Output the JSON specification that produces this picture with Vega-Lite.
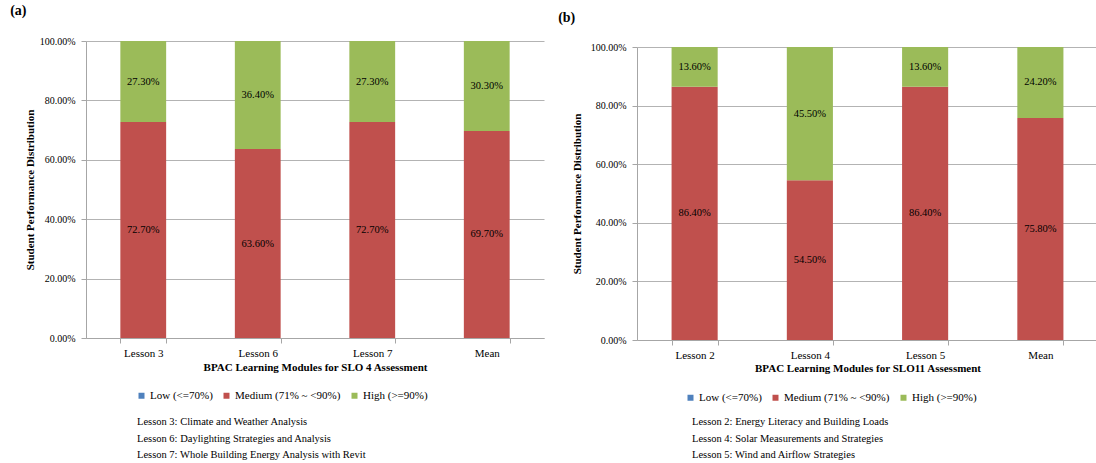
{
  "$schema": "https://vega.github.io/schema/vega-lite/v6.json",
  "padding": {"left": 10, "top": 4, "right": 3, "bottom": 0},
  "background": "white",
  "config": {
    "font": "Liberation Serif",
    "view": {"stroke": null},
    "text": {"font": "Liberation Serif"},
    "axis": {"labelFont": "Liberation Serif", "titleFont": "Liberation Serif", "labelColor": "black", "titleColor": "black", "domainColor": "#a6a6a6", "tickColor": "#a6a6a6", "gridColor": "#b3b3b3"},
    "legend": {"labelFont": "Liberation Serif", "labelColor": "black"},
    "title": {"font": "Liberation Serif"}
  },
  "datasets": {
    "a": [
      {"lesson": "Lesson 3", "level": "Medium (71% ~ <90%)", "share": 0.727},
      {"lesson": "Lesson 3", "level": "High (>=90%)", "share": 0.273},
      {"lesson": "Lesson 6", "level": "Medium (71% ~ <90%)", "share": 0.636},
      {"lesson": "Lesson 6", "level": "High (>=90%)", "share": 0.364},
      {"lesson": "Lesson 7", "level": "Medium (71% ~ <90%)", "share": 0.727},
      {"lesson": "Lesson 7", "level": "High (>=90%)", "share": 0.273},
      {"lesson": "Mean", "level": "Medium (71% ~ <90%)", "share": 0.697},
      {"lesson": "Mean", "level": "High (>=90%)", "share": 0.303}
    ],
    "b": [
      {"lesson": "Lesson 2", "level": "Medium (71% ~ <90%)", "share": 0.864},
      {"lesson": "Lesson 2", "level": "High (>=90%)", "share": 0.136},
      {"lesson": "Lesson 4", "level": "Medium (71% ~ <90%)", "share": 0.545},
      {"lesson": "Lesson 4", "level": "High (>=90%)", "share": 0.455},
      {"lesson": "Lesson 5", "level": "Medium (71% ~ <90%)", "share": 0.864},
      {"lesson": "Lesson 5", "level": "High (>=90%)", "share": 0.136},
      {"lesson": "Mean", "level": "Medium (71% ~ <90%)", "share": 0.758},
      {"lesson": "Mean", "level": "High (>=90%)", "share": 0.242}
    ],
    "none": []
  },
  "spacing": 14,
  "resolve": {"legend": {"color": "independent"}},
  "hconcat": [
    {
      "title": {"text": "(a)", "anchor": "start", "fontSize": 14, "fontWeight": "bold", "font": "Liberation Serif", "dx": -14, "offset": 18, "color": "black"},
      "resolve": {"legend": {"color": "independent"}},
      "vconcat": [
        {
          "width": 458,
          "height": 297,
          "data": {"name": "a"},
          "title": {"text": ["Lesson 3: Climate and Weather Analysis", "Lesson 6: Daylighting Strategies and Analysis", "Lesson 7: Whole Building Energy Analysis with Revit"], "orient": "bottom", "anchor": "start", "frame": "group", "dx": 51, "fontSize": 10.5, "fontWeight": "normal", "font": "Liberation Serif", "lineHeight": 16.5, "offset": 16, "color": "black"},
          "encoding": {
            "x": {"field": "lesson", "type": "nominal", "sort": null,
              "scale": {"paddingInner": 0.6, "paddingOuter": 0.3},
              "axis": {"title": "BPAC Learning Modules for SLO 4 Assessment", "labelAngle": 0, "labelFontSize": 11, "titleFontSize": 11, "titleFontWeight": "bold", "tickBand": "extent", "tickSize": 5, "labelPadding": 4, "titlePadding": 3, "grid": false}},
            "color": {"field": "level", "type": "nominal",
              "scale": {"domain": ["Low (<=70%)", "Medium (71% ~ <90%)", "High (>=90%)"], "range": ["#4f81bd", "#c0504d", "#9bbb59"]},
              "legend": {"orient": "none", "legendX": 50, "legendY": 349, "direction": "horizontal", "title": null, "symbolType": "square", "symbolSize": 36, "symbolStrokeWidth": 0, "labelFontSize": 11, "labelOffset": 3, "columnPadding": 8}},
            "order": {"field": "level", "sort": "descending"}
          },
          "layer": [
            {"mark": {"type": "bar"},
             "encoding": {"y": {"field": "share", "type": "quantitative", "stack": "zero", "scale": {"domain": [0, 1]},
               "axis": {"title": "Student Performance Distribution", "format": ".2%", "values": [0, 0.2, 0.4, 0.6, 0.8, 1], "labelFontSize": 10, "titleFontSize": 11, "titleFontWeight": "bold", "tickSize": 5, "labelPadding": 6, "titlePadding": 4, "grid": true}}}},
            {"mark": {"type": "text", "fontSize": 10.5, "baseline": "middle", "font": "Liberation Serif"},
             "encoding": {"y": {"field": "share", "type": "quantitative", "stack": "zero", "bandPosition": 0.5,
               "axis": {"title": "Student Performance Distribution", "format": ".2%", "values": [0, 0.2, 0.4, 0.6, 0.8, 1], "labelFontSize": 10, "titleFontSize": 11, "titleFontWeight": "bold", "tickSize": 5, "labelPadding": 6, "titlePadding": 4, "grid": true}},
               "detail": {"field": "level"},
               "color": {"value": "black"},
               "text": {"field": "share", "type": "quantitative", "format": ".2%"}}}
          ]
        }
      ]
    },
    {
      "title": {"text": "(b)", "anchor": "start", "fontSize": 14, "fontWeight": "bold", "font": "Liberation Serif", "dx": -13, "offset": 16, "color": "black"},
      "resolve": {"legend": {"color": "independent"}},
      "spacing": 0,
      "vconcat": [
        {"width": 461, "height": 1, "data": {"name": "none"}, "mark": "point"},
        {
          "width": 461,
          "height": 293,
          "data": {"name": "b"},
          "title": {"text": ["Lesson 2: Energy Literacy and Building Loads", "Lesson 4: Solar Measurements and Strategies", "Lesson 5: Wind and Airflow Strategies"], "orient": "bottom", "anchor": "start", "frame": "group", "dx": 55, "fontSize": 10.5, "fontWeight": "normal", "font": "Liberation Serif", "lineHeight": 16.5, "offset": 14, "color": "black"},
          "encoding": {
            "x": {"field": "lesson", "type": "nominal", "sort": null,
              "scale": {"paddingInner": 0.6, "paddingOuter": 0.3},
              "axis": {"title": "BPAC Learning Modules for SLO11 Assessment", "labelAngle": 0, "labelFontSize": 11, "titleFontSize": 11, "titleFontWeight": "bold", "tickBand": "extent", "tickSize": 5, "labelPadding": 4, "titlePadding": 2, "grid": false}},
            "color": {"field": "level", "type": "nominal",
              "scale": {"domain": ["Low (<=70%)", "Medium (71% ~ <90%)", "High (>=90%)"], "range": ["#4f81bd", "#c0504d", "#9bbb59"]},
              "legend": {"orient": "none", "legendX": 48, "legendY": 345, "direction": "horizontal", "title": null, "symbolType": "square", "symbolSize": 36, "symbolStrokeWidth": 0, "labelFontSize": 11, "labelOffset": 3, "columnPadding": 8}},
            "order": {"field": "level", "sort": "descending"}
          },
          "layer": [
            {"mark": {"type": "bar"},
             "encoding": {"y": {"field": "share", "type": "quantitative", "stack": "zero", "scale": {"domain": [0, 1]},
               "axis": {"title": "Student Performance Distribution", "format": ".2%", "values": [0, 0.2, 0.4, 0.6, 0.8, 1], "labelFontSize": 10, "titleFontSize": 11, "titleFontWeight": "bold", "tickSize": 5, "labelPadding": 6, "titlePadding": 8, "grid": true}}}},
            {"mark": {"type": "text", "fontSize": 10.5, "baseline": "middle", "font": "Liberation Serif"},
             "encoding": {"y": {"field": "share", "type": "quantitative", "stack": "zero", "bandPosition": 0.5,
               "axis": {"title": "Student Performance Distribution", "format": ".2%", "values": [0, 0.2, 0.4, 0.6, 0.8, 1], "labelFontSize": 10, "titleFontSize": 11, "titleFontWeight": "bold", "tickSize": 5, "labelPadding": 6, "titlePadding": 8, "grid": true}},
               "detail": {"field": "level"},
               "color": {"value": "black"},
               "text": {"field": "share", "type": "quantitative", "format": ".2%"}}}
          ]
        }
      ]
    }
  ]
}
